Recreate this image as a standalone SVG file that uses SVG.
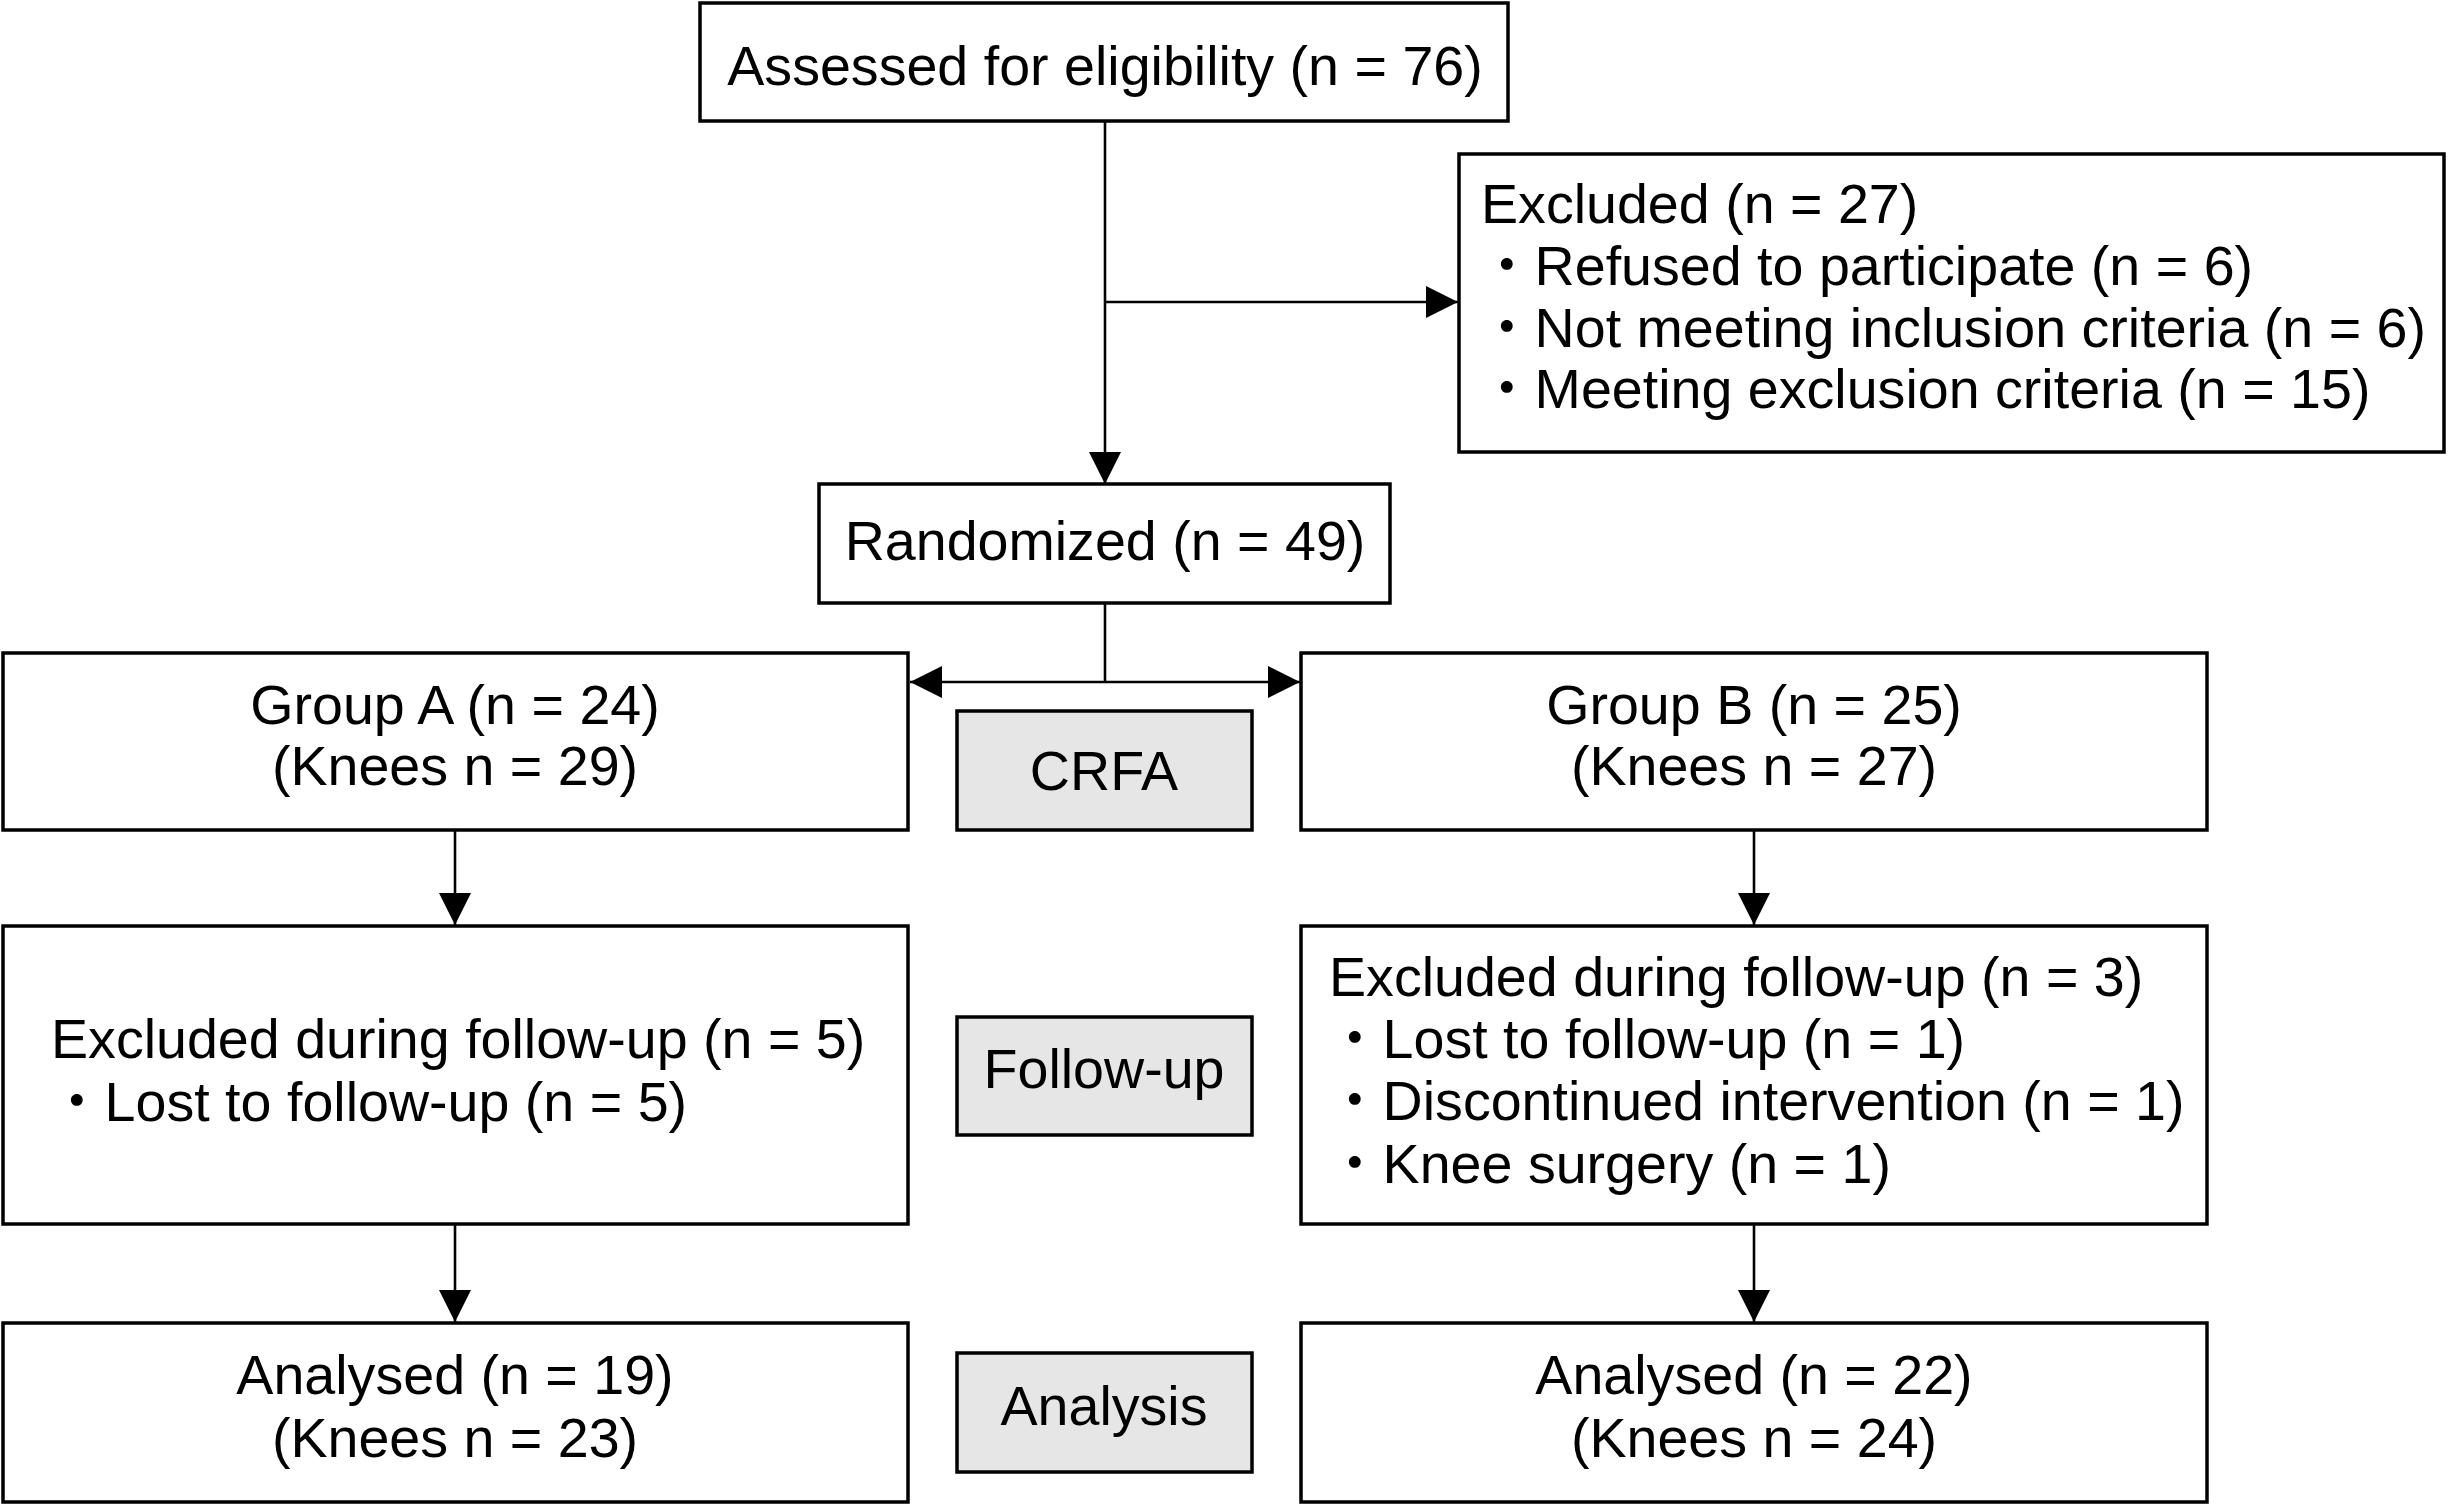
<svg xmlns="http://www.w3.org/2000/svg" width="2451" height="1508" viewBox="0 0 2451 1508">
<style>
.box{fill:#ffffff;stroke:#000;stroke-width:3.5}
.lab{fill:#e6e6e6;stroke:#000;stroke-width:3.5}
.t{font-family:"Liberation Sans","Noto Sans CJK JP",Arial,sans-serif;font-size:55.6px;fill:#000}
.c{text-anchor:middle}
.ln{fill:none;stroke:#000;stroke-width:2.6}
</style>
<defs>
<marker id="ah" markerUnits="userSpaceOnUse" markerWidth="32" markerHeight="32" viewBox="0 0 30 30" refX="30" refY="15" orient="auto">
<path d="M0,0 L30,15 L0,30 Z" fill="#000"/>
</marker>
</defs>
<rect width="2451" height="1508" fill="#fff"/>
<g id="connectors">
<line class="ln" x1="1105" y1="121" x2="1105" y2="484" marker-end="url(#ah)"/>
<line class="ln" x1="1105" y1="302" x2="1458" y2="302" marker-end="url(#ah)"/>
<line class="ln" x1="1105" y1="603" x2="1105" y2="682"/>
<line class="ln" x1="1105" y1="682" x2="910" y2="682" marker-end="url(#ah)"/>
<line class="ln" x1="1105" y1="682" x2="1300" y2="682" marker-end="url(#ah)"/>
<line class="ln" x1="455" y1="830" x2="455" y2="925" marker-end="url(#ah)"/>
<line class="ln" x1="455" y1="1224" x2="455" y2="1322" marker-end="url(#ah)"/>
<line class="ln" x1="1754" y1="830" x2="1754" y2="925" marker-end="url(#ah)"/>
<line class="ln" x1="1754" y1="1224" x2="1754" y2="1322" marker-end="url(#ah)"/>
</g>
<g id="assessed">
<rect class="box" x="700" y="3" width="808" height="118"/>
<text class="t c" x="1105" y="85">Assessed for eligibility (n = 76)</text>
</g>
<g id="excluded">
<rect class="box" x="1459" y="154" width="985" height="298"/>
<text class="t" x="1481" y="223">Excluded (n = 27)</text>
<text class="t" x="1479" y="285">・Refused to participate (n = 6)</text>
<text class="t" x="1479" y="347">・Not meeting inclusion criteria (n = 6)</text>
<text class="t" x="1479" y="408">・Meeting exclusion criteria (n = 15)</text>
</g>
<g id="randomized">
<rect class="box" x="819" y="484" width="571" height="119"/>
<text class="t c" x="1105" y="560">Randomized (n = 49)</text>
</g>
<g id="groupA">
<rect class="box" x="3" y="653" width="905" height="177"/>
<text class="t c" x="455" y="724">Group A (n = 24)</text>
<text class="t c" x="455" y="785">(Knees n = 29)</text>
</g>
<g id="crfa">
<rect class="lab" x="957" y="711" width="295" height="119"/>
<text class="t c" x="1104" y="790">CRFA</text>
</g>
<g id="groupB">
<rect class="box" x="1301" y="653" width="906" height="177"/>
<text class="t c" x="1754" y="724">Group B (n = 25)</text>
<text class="t c" x="1754" y="785">(Knees n = 27)</text>
</g>
<g id="followA">
<rect class="box" x="3" y="926" width="905" height="298"/>
<text class="t" x="51" y="1058">Excluded during follow-up (n = 5)</text>
<text class="t" x="49" y="1121">・Lost to follow-up (n = 5)</text>
</g>
<g id="followup">
<rect class="lab" x="957" y="1017" width="295" height="118"/>
<text class="t c" x="1104" y="1088">Follow-up</text>
</g>
<g id="followB">
<rect class="box" x="1301" y="926" width="906" height="298"/>
<text class="t" x="1329" y="996">Excluded during follow-up (n = 3)</text>
<text class="t" x="1327" y="1058">・Lost to follow-up (n = 1)</text>
<text class="t" x="1327" y="1120">・Discontinued intervention (n = 1)</text>
<text class="t" x="1327" y="1183">・Knee surgery (n = 1)</text>
</g>
<g id="analysedA">
<rect class="box" x="3" y="1323" width="905" height="179"/>
<text class="t c" x="455" y="1394">Analysed (n = 19)</text>
<text class="t c" x="455" y="1457">(Knees n = 23)</text>
</g>
<g id="analysis">
<rect class="lab" x="957" y="1353" width="295" height="119"/>
<text class="t c" x="1104" y="1425">Analysis</text>
</g>
<g id="analysedB">
<rect class="box" x="1301" y="1323" width="906" height="179"/>
<text class="t c" x="1754" y="1394">Analysed (n = 22)</text>
<text class="t c" x="1754" y="1457">(Knees n = 24)</text>
</g>
</svg>
